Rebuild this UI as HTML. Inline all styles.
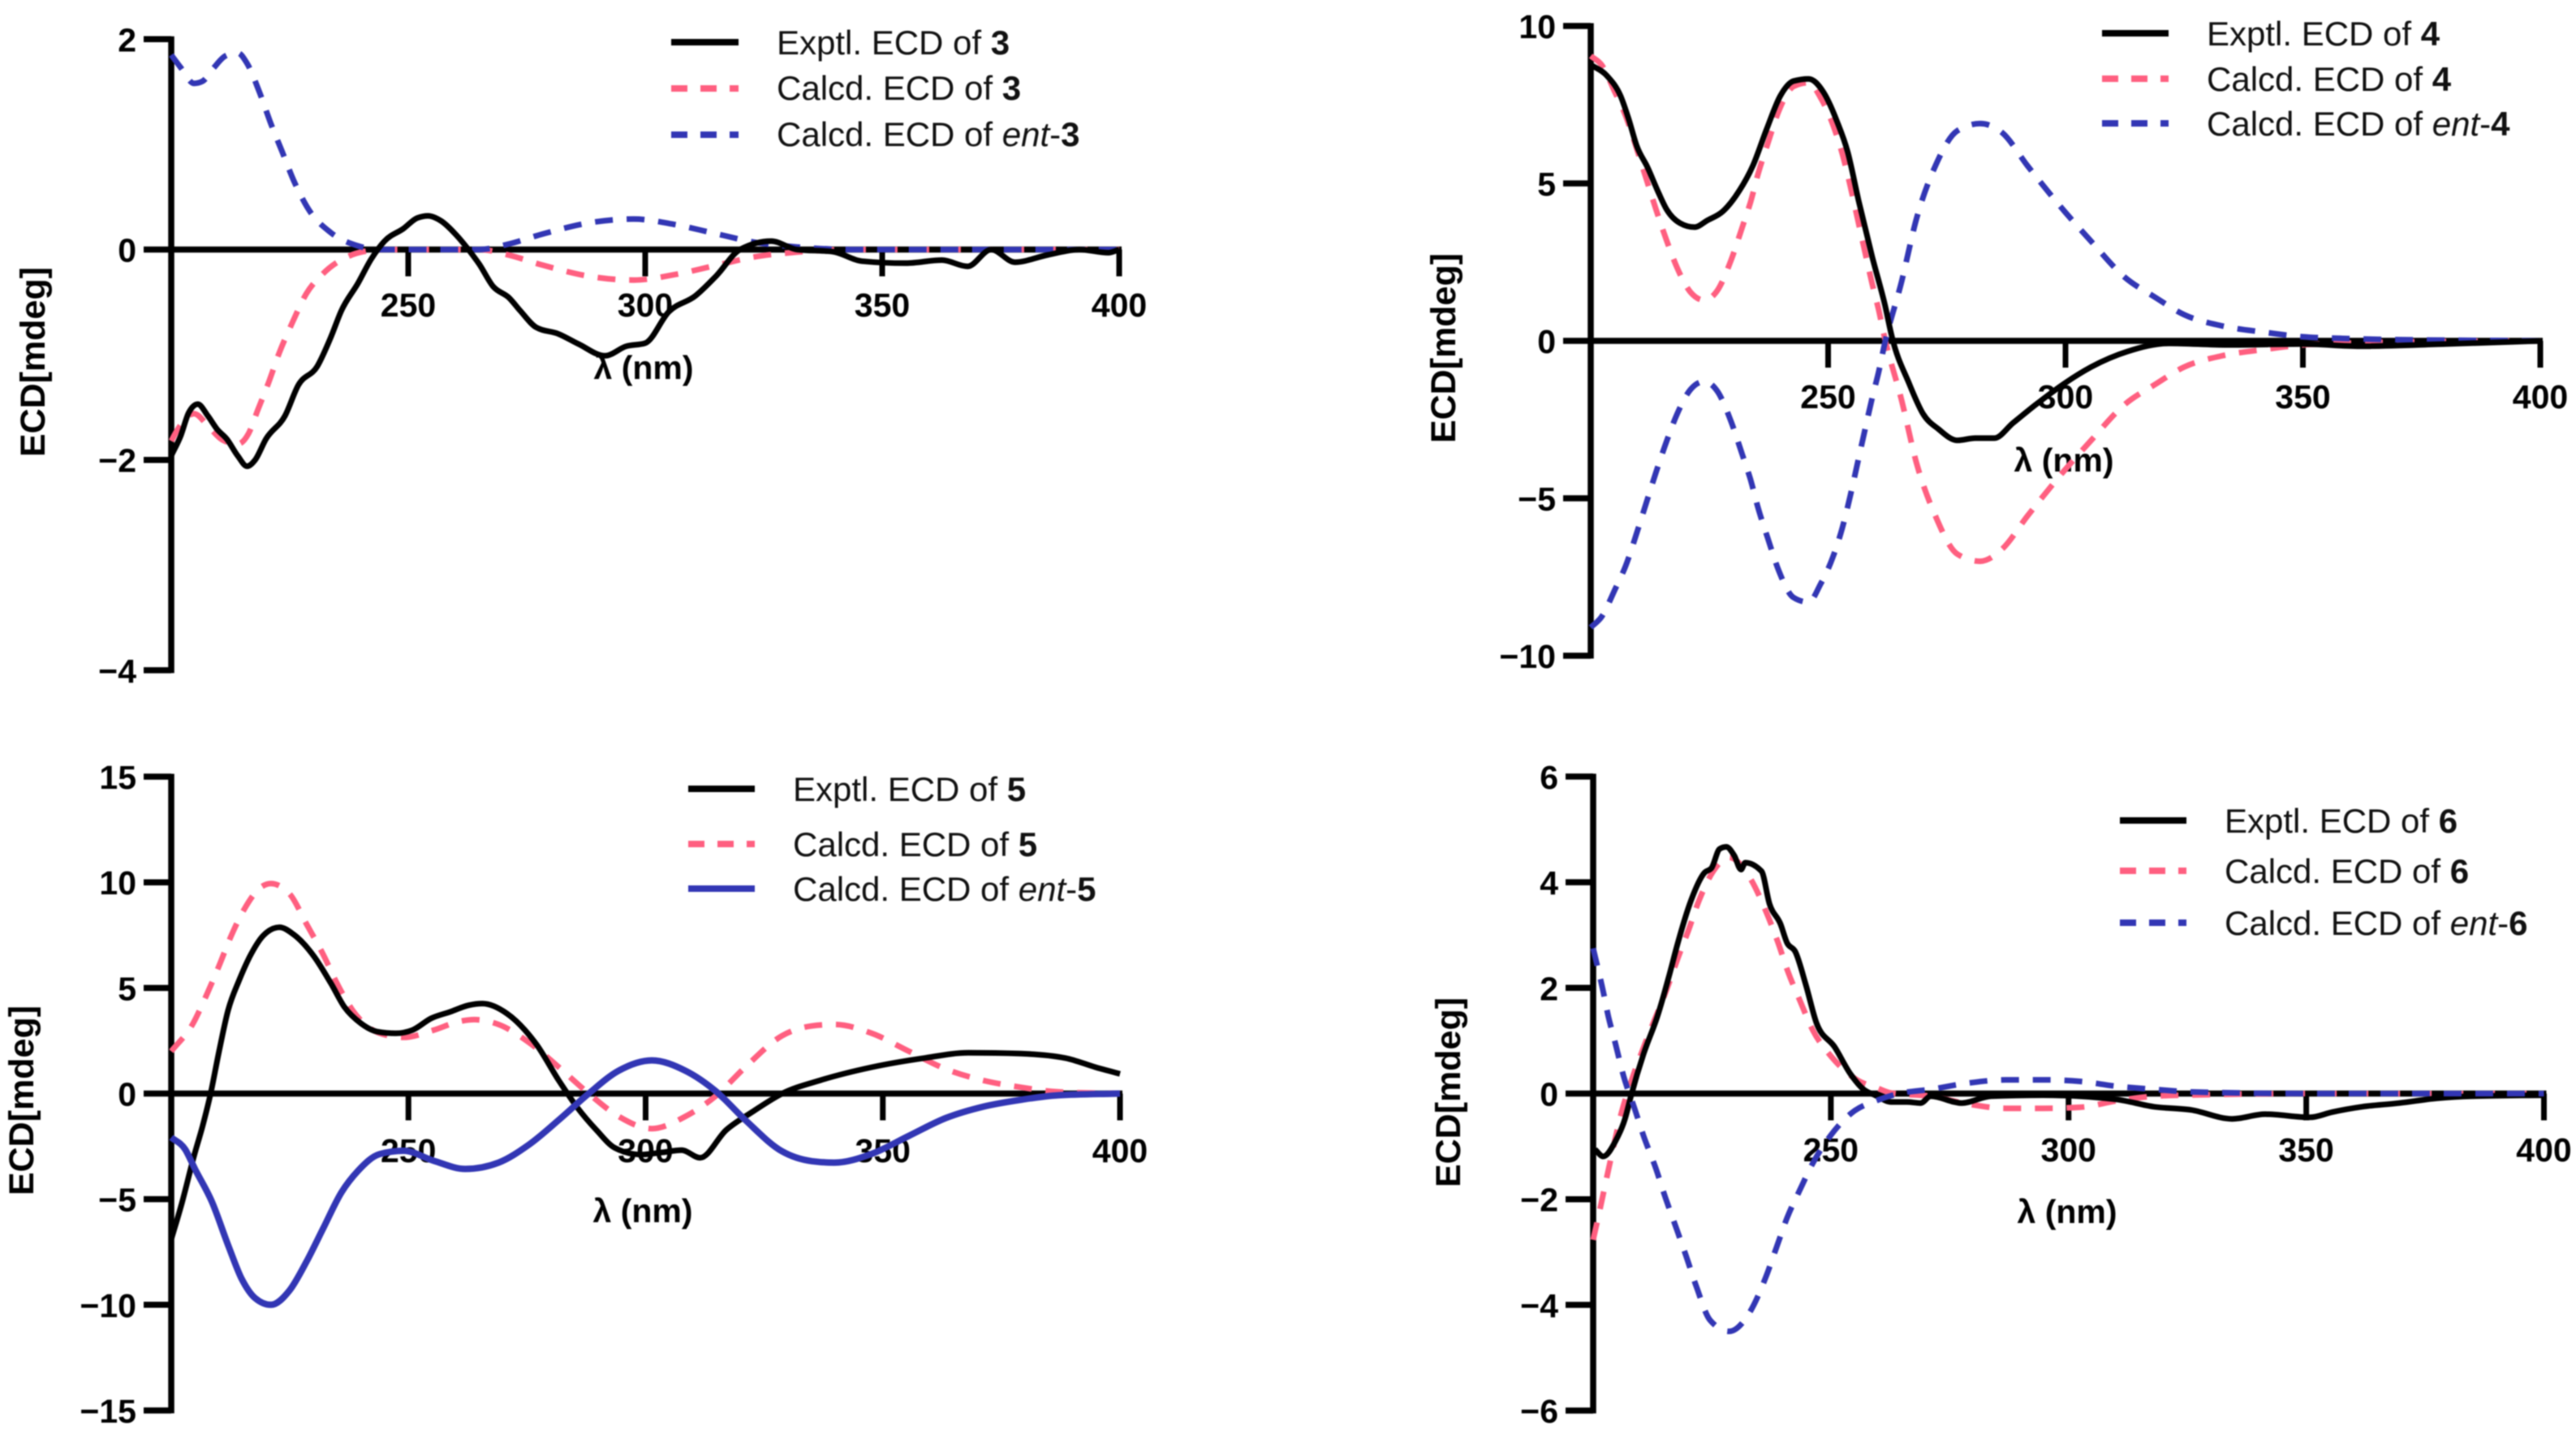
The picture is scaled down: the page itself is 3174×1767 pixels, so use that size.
<!DOCTYPE html>
<html lang="en">
<head>
<meta charset="utf-8">
<title>ECD spectra of compounds 3-6</title>
<style>
html,body{margin:0;padding:0;background:#fff;}
#figure{display:block;width:3174px;height:1767px;filter:blur(0.8px);font-family:"Liberation Sans",Arial,sans-serif;}
.tick-label{font-size:41px;font-weight:bold;fill:#000;}
.axis-title{font-size:41px;font-weight:bold;fill:#000;}
.y-title{font-size:43px;font-weight:bold;fill:#000;}
.legend-text{font-size:42px;fill:#111;}
.legend-text .b{font-weight:bold;}
.legend-text .i{font-style:italic;}
</style>
</head>
<body>
<svg id="figure" xmlns="http://www.w3.org/2000/svg" width="3174" height="1767" viewBox="0 0 3174 1767">
<rect width="3174" height="1767" fill="#fff"/>
<g id="plots"></g>

<g>
<line x1="827" x2="910" y1="52" y2="52" stroke="#000" stroke-width="8"/>
<line x1="827" x2="910" y1="109" y2="109" stroke="#ff5f80" stroke-width="8" stroke-dasharray="20 16"/>
<line x1="827" x2="910" y1="166" y2="166" stroke="#3236b4" stroke-width="8" stroke-dasharray="20 16"/>
<text class="legend-text" x="957" y="67">Exptl. ECD of <tspan class="b">3</tspan></text>
<text class="legend-text" x="957" y="123">Calcd. ECD of <tspan class="b">3</tspan></text>
<text class="legend-text" x="957" y="180">Calcd. ECD of <tspan class="i">ent</tspan>-<tspan class="b">3</tspan></text>
</g>

<g>
<line x1="2590" x2="2672" y1="41" y2="41" stroke="#000" stroke-width="8"/>
<line x1="2590" x2="2672" y1="97" y2="97" stroke="#ff5f80" stroke-width="8" stroke-dasharray="20 16"/>
<line x1="2590" x2="2672" y1="152" y2="152" stroke="#3236b4" stroke-width="8" stroke-dasharray="20 16"/>
<text class="legend-text" x="2719" y="56">Exptl. ECD of <tspan class="b">4</tspan></text>
<text class="legend-text" x="2719" y="112">Calcd. ECD of <tspan class="b">4</tspan></text>
<text class="legend-text" x="2719" y="167">Calcd. ECD of <tspan class="i">ent</tspan>-<tspan class="b">4</tspan></text>
</g>

<g>
<line x1="848" x2="930" y1="972" y2="972" stroke="#000" stroke-width="8"/>
<line x1="848" x2="930" y1="1040" y2="1040" stroke="#ff5f80" stroke-width="8" stroke-dasharray="20 16"/>
<line x1="848" x2="930" y1="1095" y2="1095" stroke="#3236b4" stroke-width="8"/>
<text class="legend-text" x="977" y="987">Exptl. ECD of <tspan class="b">5</tspan></text>
<text class="legend-text" x="977" y="1055">Calcd. ECD of <tspan class="b">5</tspan></text>
<text class="legend-text" x="977" y="1110">Calcd. ECD of <tspan class="i">ent</tspan>-<tspan class="b">5</tspan></text>
</g>

<g>
<line x1="2612" x2="2694" y1="1011" y2="1011" stroke="#000" stroke-width="8"/>
<line x1="2612" x2="2694" y1="1073" y2="1073" stroke="#ff5f80" stroke-width="8" stroke-dasharray="20 16"/>
<line x1="2612" x2="2694" y1="1137" y2="1137" stroke="#3236b4" stroke-width="8" stroke-dasharray="20 16"/>
<text class="legend-text" x="2741" y="1026">Exptl. ECD of <tspan class="b">6</tspan></text>
<text class="legend-text" x="2741" y="1088">Calcd. ECD of <tspan class="b">6</tspan></text>
<text class="legend-text" x="2741" y="1152">Calcd. ECD of <tspan class="i">ent</tspan>-<tspan class="b">6</tspan></text>
</g>
</svg>

<script>
const xTickLabels = [250, 300, 350, 400];

const yTicks3 = [2, 0, -2, -4];
const yTicks4 = [10, 5, 0, -5, -10];
const yTicks5 = [15, 10, 5, 0, -5, -10, -15];
const yTicks6 = [6, 4, 2, 0, -2, -4, -6];

const nmExp3 = [200,202,203.7,205.6,207.7,209.7,211.7,214,216,217.7,220,224,226.8,230.8,233.7,235.9,239.4,242.2,245,249,251.9,254.2,257,259.9,262.7,265,267.9,271.3,273.6,277,281.6,286,291.5,296,300,305,310.6,315,320,326.6,332,339.6,345.7,355,362.6,368,373,378,385,391.6,397.7,400];
const valExp3 = [-1.96,-1.77,-1.55,-1.47,-1.58,-1.71,-1.8,-1.96,-2.06,-2.0,-1.8,-1.58,-1.29,-1.11,-0.83,-0.58,-0.32,-0.09,0.08,0.2,0.3,0.32,0.27,0.15,0,-0.14,-0.35,-0.46,-0.58,-0.74,-0.8,-0.9,-1.01,-0.92,-0.89,-0.59,-0.44,-0.25,0,0.08,0,-0.02,-0.11,-0.13,-0.1,-0.16,0,-0.12,-0.05,0,-0.03,0];
const nmCalc3 = [200,201.1,204.8,208,210.8,214,216.3,218.3,220.5,222.8,225.4,228.5,232,237.6,240.5,245,265,271,278.5,289,297.6,306,315,323,332,344,400];
const valCalc3 = [-1.82,-1.73,-1.56,-1.69,-1.81,-1.85,-1.75,-1.52,-1.27,-0.98,-0.71,-0.42,-0.23,-0.06,-0.02,0,0,-0.05,-0.15,-0.26,-0.29,-0.24,-0.15,-0.07,-0.025,0,0];
const nmEnt3 = [200,202,204.8,206.6,209,211.4,214,216,218.5,221,223.4,226,229,233.7,239.4,243.4,265,271,278.5,289,297.6,306,315,323,332,344,400];
const valEnt3 = [1.85,1.73,1.58,1.6,1.73,1.84,1.87,1.77,1.51,1.2,0.93,0.64,0.38,0.16,0.035,0,0,0.05,0.15,0.26,0.29,0.24,0.15,0.07,0.025,0,0];

const nmExp4 = [200,203.4,206.3,208,209.7,212,214.2,216,218.8,221.9,224.5,227.9,231.3,234.2,237,239.9,242.7,245.9,249,251.9,254.1,256.4,259.3,262,263.5,267,270,273.3,277.2,281,285,289,293.7,300,305.4,313,321.8,334,350,362,380,400];
const valExp4 = [8.77,8.42,7.77,7.04,6.19,5.5,4.73,4.17,3.74,3.61,3.82,4.12,4.77,5.58,6.7,7.77,8.25,8.32,7.9,6.96,6.01,4.47,2.66,1.12,0.09,-1.33,-2.32,-2.81,-3.16,-3.09,-3.09,-2.6,-2.03,-1.33,-0.83,-0.34,-0.08,-0.13,-0.1,-0.17,-0.1,0];
const nmCalc4 = [200,202.3,205.1,207.4,209.7,211.7,213.7,216,218.2,221,223.9,226.8,229.6,231.9,233.6,235.3,237.3,239.6,242.7,245.9,248.4,251,253,254.7,256.1,257.5,259.3,260.7,261.8,265.5,268.6,272.6,277.2,282,286.6,292,298.4,305.4,312.4,318.7,325,332.8,342,350,358,365.6,400];
const valCalc4 = [9.05,8.76,7.9,7.13,6.1,5.15,4.2,3.18,2.32,1.55,1.29,1.63,2.58,3.6,4.38,5.33,6.27,7.3,8.08,8.2,7.73,6.87,5.93,4.9,3.95,3,1.8,0.95,0.17,-1.9,-3.87,-5.56,-6.77,-7,-6.62,-5.56,-4.36,-3.16,-2.03,-1.4,-0.83,-0.48,-0.27,-0.13,-0.08,-0.05,0];
const nmEnt4 = [200,202.3,205.1,207.4,209.7,211.7,213.7,216,218.2,221,223.9,226.8,229.6,231.9,233.6,235.3,237.3,239.6,242.7,245.9,248.4,251,253,254.7,256.1,257.5,259.3,260.7,261.8,265.5,268.6,272.6,277.2,282,286.6,292,298.4,305.4,312.4,318.7,325,332.8,342,350,358,365.6,400];
const valEnt4 = [-9.1,-8.76,-7.9,-7.13,-6.1,-5.15,-4.2,-3.18,-2.32,-1.55,-1.29,-1.63,-2.58,-3.6,-4.38,-5.33,-6.27,-7.3,-8.15,-8.3,-7.73,-6.87,-5.93,-4.9,-3.95,-3,-1.8,-0.95,-0.17,1.9,3.87,5.56,6.67,6.9,6.62,5.56,4.36,3.16,2.03,1.4,0.83,0.48,0.27,0.13,0.08,0.05,0];

const nmExp5 = [200,202.3,204.8,206.6,208.3,210,212,214.3,216.5,219.4,222.8,225.7,230.2,233.7,236.5,240,243.4,247.3,250.8,254.8,258.8,262.7,265.6,270.7,277,281.7,285.6,289.6,293.5,299,303.7,307.6,311.5,317,322.5,328.8,336.7,347.7,358.7,368,379,388.5,394.8,400];
const valExp5 = [-6.9,-5.14,-2.95,-1.54,0,1.9,3.95,5.36,6.46,7.48,7.87,7.55,6.46,5.2,4.1,3.32,2.93,2.85,3.0,3.56,3.87,4.18,4.26,3.8,2.32,0.62,-0.66,-1.72,-2.57,-2.89,-2.78,-2.68,-3.04,-1.72,-0.87,0,0.62,1.25,1.68,1.93,1.89,1.68,1.25,0.93];
const nmCalc5 = [200,204.6,207.4,210,212.5,215.4,218.8,221,225,228.5,232,234.8,238.2,244,249,255.3,260.5,263.9,269,275.4,281.7,288,294.3,301.3,308.4,314.7,321,328.8,335,339.8,347.7,355.5,363.4,371.2,379,387,400];
const valCalc5 = [2.0,3.32,4.65,6,7.4,8.73,9.75,9.94,9.44,8.03,6.6,5.28,3.95,2.85,2.66,3,3.4,3.5,3.27,2.42,1.25,0,-1.08,-1.66,-1.08,-0.13,1.25,2.74,3.2,3.27,2.85,2,1.15,0.62,0.3,0.08,0];
const nmEnt5 = [200,202.9,205,208.6,212,214.8,217.7,221,225,228.5,232,235.9,239.4,243.9,249,255.3,262,269,275.4,281.7,288,294.3,301.3,308.4,314.7,321,328.8,335,339.8,347.7,355.5,363.4,371.2,379,387,400];
const valEnt5 = [-2.08,-2.63,-3.57,-5.14,-7.18,-8.75,-9.69,-10,-9.3,-7.96,-6.4,-4.67,-3.65,-2.87,-2.71,-3.18,-3.57,-3.27,-2.42,-1.25,0,1.08,1.57,1.08,0.13,-1.25,-2.74,-3.2,-3.27,-2.85,-2,-1.15,-0.62,-0.3,-0.08,0];

const nmExp6 = [200.4,202.1,204.7,206.7,208,210.6,213.5,215.8,217.8,220.6,223.4,224.9,226.6,228,229.7,231.1,232,235.4,237.1,239.4,240.8,242.5,244.8,247,250.8,254.2,257,259.3,262.7,266,268.9,271,277.5,283.7,294.6,310,318,325.8,334.4,341.4,350.8,355.5,361.7,369.6,377.4,385,400];
const valExp6 = [-1.06,-1.19,-0.9,-0.48,-0.03,0.75,1.46,2.17,2.85,3.66,4.18,4.27,4.63,4.67,4.5,4.24,4.37,4.21,3.59,3.21,2.85,2.69,2.04,1.33,0.88,0.36,0.07,-0.03,-0.16,-0.16,-0.18,-0.05,-0.18,-0.05,-0.03,-0.11,-0.25,-0.31,-0.48,-0.39,-0.45,-0.35,-0.25,-0.18,-0.09,-0.05,-0.03];
const nmCalc6 = [200,201.5,203.2,206,208,210.9,215.5,217.8,220,222.3,225.2,228.6,233,236.3,238.8,241,243.4,246.2,250.2,255.3,259.9,262.7,271,279,286.8,294.6,302.4,310,318,330,350,400];
const valCalc6 = [-2.77,-2.16,-1.45,-0.35,0.23,0.94,1.98,2.56,3.08,3.66,4.2,4.47,4.08,3.46,2.88,2.3,1.78,1.2,0.69,0.27,0.1,0.01,-0.05,-0.2,-0.28,-0.28,-0.26,-0.14,-0.05,-0.02,0,0];
const nmEnt6 = [200,202,203.2,204.7,206.4,208.7,210.6,213.2,215.2,217.5,219.5,221.7,224.6,228.6,233,236.3,238.5,240.8,243.4,246.2,249.9,254.2,260,264.4,271,279,286.8,294.6,302.4,310,318,326,350,400];
const valEnt6 = [2.75,1.98,1.46,0.94,0.33,-0.28,-0.8,-1.42,-1.97,-2.55,-3.06,-3.65,-4.29,-4.5,-4.13,-3.48,-2.93,-2.35,-1.84,-1.32,-0.8,-0.38,-0.12,0,0.08,0.2,0.26,0.26,0.23,0.14,0.08,0.03,0,0];

const SVG_NS = 'http://www.w3.org/2000/svg';
const plots = document.getElementById('plots');

function svgEl(tag, attrs, parent) {
  const el = document.createElementNS(SVG_NS, tag);
  for (const k in attrs) el.setAttribute(k, attrs[k]);
  parent.appendChild(el);
  return el;
}

function monotonePath(pts) {
  const n = pts.length;
  const secant = [];
  for (let i = 0; i < n - 1; i++) secant.push((pts[i + 1][1] - pts[i][1]) / (pts[i + 1][0] - pts[i][0]));
  const m = new Array(n);
  for (let i = 1; i < n - 1; i++) {
    const h0 = pts[i][0] - pts[i - 1][0], h1 = pts[i + 1][0] - pts[i][0];
    const s0 = secant[i - 1], s1 = secant[i];
    const p = (s0 * h1 + s1 * h0) / (h0 + h1);
    m[i] = (Math.sign(s0) + Math.sign(s1)) * Math.min(Math.abs(s0), Math.abs(s1), 0.5 * Math.abs(p));
  }
  m[0] = secant[0];
  m[n - 1] = secant[n - 2];
  let d = 'M' + pts[0][0].toFixed(1) + ' ' + pts[0][1].toFixed(1);
  for (let i = 0; i < n - 1; i++) {
    const h = (pts[i + 1][0] - pts[i][0]) / 3;
    d += 'C' + (pts[i][0] + h).toFixed(1) + ' ' + (pts[i][1] + m[i] * h).toFixed(1) + ' ' + (pts[i + 1][0] - h).toFixed(1) + ' ' + (pts[i + 1][1] - m[i + 1] * h).toFixed(1) + ' ' + pts[i + 1][0].toFixed(1) + ' ' + pts[i + 1][1].toFixed(1);
  }
  return d;
}

function drawPanel(id, box, yTicks, series) {
  const xScale = nm => box.xLeft + (nm - 200) * (box.xRight - box.xLeft) / 200;
  const yScale = v => box.yZero - v * box.pxPerUnit;
  const g = svgEl('g', {}, plots);
  
  

  const maxV = Math.max(...yTicks), minV = Math.min(...yTicks);

  const yAxis = svgEl('line', {x1: xScale(200), x2: xScale(200), y1: yScale(maxV) - 3.5, y2: yScale(minV) + 3.5, stroke: '#000', 'stroke-width': 7.5}, g);
  
  

  const xAxis = svgEl('line', {x1: xScale(200), x2: xScale(400) + 3, y1: yScale(0), y2: yScale(0), stroke: '#000', 'stroke-width': 7.5}, g);
  
  

  yTicks.forEach(v => {
    const t = svgEl('line', {x1: xScale(200) - 34, x2: xScale(200), y1: yScale(v), y2: yScale(v), stroke: '#000', 'stroke-width': 7.5}, g);
    
    
    const l = svgEl('text', {x: xScale(200) - 43, y: yScale(v) + 15, 'text-anchor': 'end', class: 'tick-label'}, g);
    
    
    l.textContent = v < 0 ? '\u2212' + Math.abs(v) : String(v);
  });

  xTickLabels.forEach(nm => {
    const t = svgEl('line', {x1: xScale(nm), x2: xScale(nm), y1: yScale(0), y2: yScale(0) + 33, stroke: '#000', 'stroke-width': 7}, g);
    
    
    const l = svgEl('text', {x: xScale(nm), y: box.xLabelY, 'text-anchor': 'middle', class: 'tick-label'}, g);
    
    
    l.textContent = String(nm);
  });

  const xTitle = svgEl('text', {x: box.xTitleX, y: box.xTitleY, 'text-anchor': 'middle', class: 'axis-title'}, g);
  
  
  xTitle.textContent = '\u03bb (nm)';

  const yTitle = svgEl('text', {transform: 'translate(' + box.yTitleX + ' ' + box.yTitleY + ') rotate(-90)', 'text-anchor': 'middle', class: 'y-title'}, g);
  
  
  yTitle.textContent = 'ECD[mdeg]';

  series.forEach(s => {
    const pts = s.nm.map((nm, i) => [xScale(nm), yScale(s.val[i])]);
    const p = svgEl('path', {d: monotonePath(pts), fill: 'none', stroke: s.color, 'stroke-width': s.width || 7, 'stroke-linejoin': 'round'}, g);
    if (s.dash) p.setAttribute('stroke-dasharray', s.dash);
    
    
  });
}

const PINK = '#ff5f80', BLUE = '#3236b4', BLACK = '#000';
const DASH = '22 17';

drawPanel('3', {xLeft: 211, xRight: 1379, yZero: 307.5, pxPerUnit: 129.6, xLabelY: 390, xTitleX: 793, xTitleY: 467, yTitleX: 55, yTitleY: 446}, yTicks3, [
  {label: 'calcd', nm: nmCalc3, val: valCalc3, color: PINK, dash: DASH},
  {label: 'ent', nm: nmEnt3, val: valEnt3, color: BLUE, dash: DASH},
  {label: 'exptl', nm: nmExp3, val: valExp3, color: BLACK}
]);
drawPanel('4', {xLeft: 1960, xRight: 3130, yZero: 420, pxPerUnit: 38.8, xLabelY: 503, xTitleX: 2543, xTitleY: 581, yTitleX: 1793, yTitleY: 429}, yTicks4, [
  {label: 'calcd', nm: nmCalc4, val: valCalc4, color: PINK, dash: DASH},
  {label: 'ent', nm: nmEnt4, val: valEnt4, color: BLUE, dash: DASH},
  {label: 'exptl', nm: nmExp4, val: valExp4, color: BLACK}
]);
drawPanel('5', {xLeft: 211, xRight: 1380, yZero: 1347.5, pxPerUnit: 26.03, xLabelY: 1432, xTitleX: 792, xTitleY: 1506, yTitleX: 41, yTitleY: 1356}, yTicks5, [
  {label: 'calcd', nm: nmCalc5, val: valCalc5, color: PINK, dash: DASH},
  {label: 'exptl', nm: nmExp5, val: valExp5, color: BLACK},
  {label: 'ent', nm: nmEnt5, val: valEnt5, color: BLUE, width: 8}
]);
drawPanel('6', {xLeft: 1963, xRight: 3134.5, yZero: 1347.5, pxPerUnit: 65.1, xLabelY: 1431, xTitleX: 2547, xTitleY: 1507, yTitleX: 1799, yTitleY: 1346}, yTicks6, [
  {label: 'calcd', nm: nmCalc6, val: valCalc6, color: PINK, dash: DASH},
  {label: 'exptl', nm: nmExp6, val: valExp6, color: BLACK},
  {label: 'ent', nm: nmEnt6, val: valEnt6, color: BLUE, dash: DASH}
]);
</script>
</body>
</html>
